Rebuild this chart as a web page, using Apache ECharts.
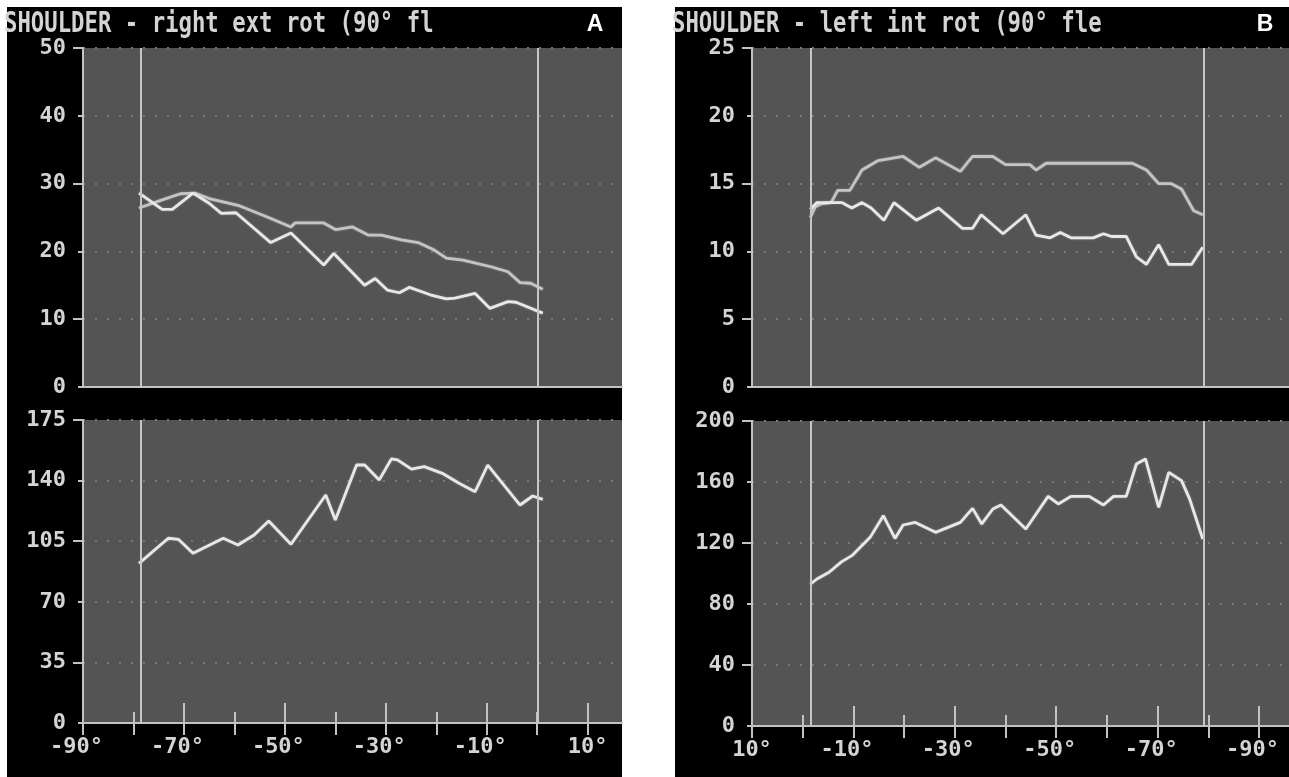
<!DOCTYPE html>
<html>
<head>
<meta charset="utf-8">
<title>Shoulder rotation – torque and work</title>
<script src="https://cdn.jsdelivr.net/npm/echarts@6/dist/echarts.min.js"></script>
<style>
  html, body { margin: 0; padding: 0; background: #ffffff; }
  #chart { width: 1289px; height: 777px; }
</style>
</head>
<body>
<div id="chart"></div>
<script>
// ---------- Panel A: right shoulder, external rotation ----------
const aTitle = 'SHOULDER - right ext rot (90° fl';
const aTag = 'A';
// upper trace (torque), two repetitions
const aTopAngleBright = [-78.9, -74.3, -72.3, -68.2, -65.0, -62.6, -59.7, -52.8, -48.8, -42.3, -40.3, -34.2, -32.1, -29.7, -27.3, -25.3, -21.2, -18.0, -16.3, -12.3, -9.4, -5.8, -4.2, 1.1];
const aTopValueBright = [28.6, 26.2, 26.2, 28.6, 27.1, 25.6, 25.7, 21.3, 22.7, 18.0, 19.7, 15.0, 16.0, 14.3, 13.9, 14.7, 13.6, 13.0, 13.1, 13.8, 11.6, 12.6, 12.5, 10.9];
const aTopAngleDim = [-78.9, -74.3, -70.7, -67.8, -65.0, -59.3, -53.6, -48.8, -48.0, -42.3, -39.9, -36.6, -33.4, -30.9, -26.9, -23.6, -20.4, -18.0, -14.7, -9.0, -5.8, -3.4, -1.3, 1.1];
const aTopValueDim = [26.4, 27.6, 28.5, 28.6, 27.8, 26.8, 25.1, 23.6, 24.2, 24.2, 23.2, 23.6, 22.4, 22.4, 21.7, 21.3, 20.2, 19.0, 18.7, 17.7, 17.0, 15.4, 15.3, 14.4];
// lower trace
const aBotAngle = [-78.9, -73.1, -71.1, -68.2, -62.2, -59.3, -56.1, -53.2, -48.8, -41.9, -40.0, -35.8, -34.2, -31.3, -28.9, -27.7, -24.9, -22.4, -18.8, -15.5, -12.3, -9.8, -3.4, -0.9, 1.1];
const aBotValue = [92.2, 106.7, 106.1, 98.0, 106.7, 102.8, 108.6, 116.7, 103.2, 131.7, 117.3, 149.0, 149.0, 140.4, 152.5, 152.0, 146.6, 148.1, 144.2, 138.5, 133.6, 149.0, 125.9, 131.1, 129.2];
const aMarkers = [-78.6, 0.2];
const aXRange = [-90, 16.8];
const aXLabels = [-90, -70, -50, -30, -10, 10];
const aXMinor = [-80, -60, -40, -20, 0];
const aTopY = { max: 50, step: 10, major: [50, 30, 10] };
const aBotY = { max: 175, step: 35, major: [175, 105, 35] };

// ---------- Panel B: left shoulder, internal rotation ----------
const bTitle = 'SHOULDER - left int rot (90° fle';
const bTag = 'B';
const bTopAngleBright = [-1.5, -2.8, -7.7, -9.7, -11.7, -13.5, -16.0, -18.0, -22.4, -26.8, -31.5, -33.5, -35.2, -39.5, -44.0, -46.0, -48.8, -50.8, -52.9, -57.3, -59.3, -60.9, -63.8, -65.8, -67.8, -70.2, -72.2, -76.7, -78.9];
const bTopValueBright = [13.1, 13.6, 13.6, 13.2, 13.6, 13.2, 12.3, 13.6, 12.3, 13.2, 11.7, 11.7, 12.7, 11.3, 12.7, 11.2, 11.0, 11.4, 11.0, 11.0, 11.3, 11.1, 11.1, 9.6, 9.05, 10.5, 9.05, 9.05, 10.3];
const bTopAngleDim = [-1.5, -2.5, -3.6, -5.6, -6.9, -9.3, -11.7, -14.9, -19.8, -23.0, -26.2, -31.1, -33.5, -37.5, -40.0, -44.8, -46.0, -48.0, -65.0, -67.8, -70.2, -72.6, -74.7, -77.1, -78.9];
const bTopValueDim = [12.5, 13.3, 13.5, 13.6, 14.5, 14.5, 16.0, 16.7, 17.0, 16.2, 16.9, 15.9, 17.0, 17.0, 16.4, 16.4, 16.0, 16.5, 16.5, 16.0, 15.0, 15.0, 14.6, 13.0, 12.7];
const bBotAngle = [-1.5, -2.8, -5.2, -7.7, -9.7, -13.3, -15.9, -18.2, -19.8, -22.2, -26.2, -31.1, -33.5, -35.3, -37.5, -39.1, -44.0, -48.4, -50.4, -52.9, -56.5, -59.3, -61.3, -63.8, -65.8, -67.6, -70.2, -72.2, -74.7, -76.3, -78.9];
const bBotValue = [93.1, 96.4, 100.8, 107.8, 111.7, 123.7, 137.9, 123.0, 131.8, 133.5, 127.0, 133.5, 142.7, 132.5, 142.3, 144.9, 129.2, 150.6, 145.6, 150.6, 150.6, 144.9, 150.6, 150.6, 171.8, 175.1, 143.4, 166.3, 160.9, 148.9, 122.6];
const bMarkers = [-1.6, -79.1];
const bXRange = [-95.9, 10];
const bXLabels = [10, -10, -30, -50, -70, -90];
const bXMinor = [0, -20, -40, -60, -80];
const bTopY = { max: 25, step: 5, major: [25, 15, 5] };
const bBotY = { max: 200, step: 40, major: [200, 120, 40] };

// ---------- styling ----------
const MONO = '"DejaVu Sans Mono", "Liberation Mono", monospace';
const TXT = '#d4d4d4';
const PLOT_BG = '#545454';
const AXIS = '#c2c2c2';
const BRIGHT = '#e8e8e8';
const DIM = '#c4c4c4';

const pairs = (xs, ys) => xs.map((x, i) => [x, ys[i]]);

function plotGrid(left, top, width, height) {
  return { left, top, width, height, show: true, backgroundColor: PLOT_BG, borderWidth: 0,
           containLabel: false, outerBoundsMode: 'none' };
}

function labelText(v) {
  return v < 0 ? '{n|' + v + '°}' : '{p|' + v + '°}';
}

const labelRich = {
  n: { fontFamily: MONO, fontWeight: 'bold', fontSize: 22, color: TXT, padding: [0, 13, 0, 0] },
  p: { fontFamily: MONO, fontWeight: 'bold', fontSize: 22, color: TXT }
};

// the upper panel only carries its baseline
function plainXAxis(gridIndex, range, inverse) {
  return {
    type: 'value', gridIndex, min: range[0], max: range[1], inverse, position: 'bottom',
    axisLine: { show: true, onZero: false, lineStyle: { color: AXIS, width: 2 } },
    axisTick: { show: false }, axisLabel: { show: false }, splitLine: { show: false }
  };
}

// lower panel: labelled long ticks, short ticks, and the part of each tick below the line
function degreeXAxes(gridIndex, range, inverse, labels, minor) {
  const base = { type: 'value', gridIndex, min: range[0], max: range[1], inverse, position: 'bottom',
                 splitLine: { show: false } };
  return [
    Object.assign({}, base, {
      axisLine: { show: true, onZero: false, lineStyle: { color: AXIS, width: 2 } },
      axisTick: { show: true, inside: true, length: 20, customValues: labels,
                  lineStyle: { color: AXIS, width: 2 } },
      axisLabel: { show: true, customValues: labels, margin: 13, formatter: labelText, rich: labelRich,
                   color: TXT, fontFamily: MONO, fontWeight: 'bold', fontSize: 22 }
    }),
    Object.assign({}, base, {
      axisLine: { show: false, onZero: false },
      axisTick: { show: true, inside: true, length: 11, customValues: minor,
                  lineStyle: { color: AXIS, width: 2 } },
      axisLabel: { show: false }
    }),
    Object.assign({}, base, {
      axisLine: { show: false, onZero: false },
      axisTick: { show: true, inside: false, length: 12, customValues: labels.concat(minor),
                  lineStyle: { color: AXIS, width: 2 } },
      axisLabel: { show: false }
    })
  ];
}

function valueYAxes(gridIndex, spec) {
  return [
    {
      type: 'value', gridIndex, min: 0, max: spec.max, interval: spec.step, position: 'left',
      axisLine: { show: true, onZero: false, lineStyle: { color: AXIS, width: 2 } },
      axisTick: { show: true, length: 5, lineStyle: { color: AXIS, width: 2 } },
      axisLabel: { color: TXT, fontFamily: MONO, fontWeight: 'bold', fontSize: 22, margin: 17 },
      splitLine: { show: true, lineStyle: { color: '#787878', width: 2, type: [2, 10] } }
    },
    {
      type: 'value', gridIndex, min: 0, max: spec.max, position: 'left',
      axisLine: { show: false, onZero: false },
      axisTick: { show: true, length: 10, customValues: spec.major, lineStyle: { color: AXIS, width: 2 } },
      axisLabel: { show: false }, splitLine: { show: false }
    }
  ];
}

function trace(xIdx, yIdx, data, color, markers) {
  const s = {
    type: 'line', xAxisIndex: xIdx, yAxisIndex: yIdx, data, showSymbol: false, symbol: 'none',
    lineStyle: { color, width: 2.8, shadowBlur: 2, shadowColor: 'rgba(255,255,255,0.35)' },
    z: 3, animation: false
  };
  if (markers) {
    s.markLine = {
      silent: true, symbol: 'none', label: { show: false }, animation: false,
      lineStyle: { color: '#c6c6c6', width: 2, type: 'solid' },
      data: markers.map(v => ({ xAxis: v }))
    };
  }
  return s;
}

const option = {
  backgroundColor: '#ffffff',
  animation: false,
  graphic: [
    { type: 'rect', z: -20, shape: { x: 7, y: 7, width: 615, height: 770 }, style: { fill: '#000000' } },
    { type: 'rect', z: -20, shape: { x: 675, y: 7, width: 614, height: 770 }, style: { fill: '#000000' } },
    { type: 'text', x: 4, y: 25, scaleY: 1.28,
      style: { text: aTitle, fill: TXT, font: 'bold 22.3px ' + MONO, verticalAlign: 'middle' } },
    { type: 'text', x: 672, y: 25, scaleY: 1.28,
      style: { text: bTitle, fill: TXT, font: 'bold 22.3px ' + MONO, verticalAlign: 'middle' } },
    { type: 'text', x: 595, y: 25,
      style: { text: aTag, fill: '#ffffff', font: 'bold 23px "Liberation Sans", Arial, sans-serif',
               align: 'center', verticalAlign: 'middle' } },
    { type: 'text', x: 1265, y: 25,
      style: { text: bTag, fill: '#ffffff', font: 'bold 23px "Liberation Sans", Arial, sans-serif',
               align: 'center', verticalAlign: 'middle' } }
  ],
  grid: [
    plotGrid(83, 48, 539, 339),
    plotGrid(83, 420, 539, 303),
    plotGrid(752, 48, 537, 339),
    plotGrid(752, 421, 537, 305)
  ],
  xAxis: [
    plainXAxis(0, aXRange, false),                          // 0
    ...degreeXAxes(1, aXRange, false, aXLabels, aXMinor),   // 1,2,3
    plainXAxis(2, bXRange, true),                           // 4
    ...degreeXAxes(3, bXRange, true, bXLabels, bXMinor)     // 5,6,7
  ],
  yAxis: [
    ...valueYAxes(0, aTopY),   // 0,1
    ...valueYAxes(1, aBotY),   // 2,3
    ...valueYAxes(2, bTopY),   // 4,5
    ...valueYAxes(3, bBotY)    // 6,7
  ],
  series: [
    trace(0, 0, pairs(aTopAngleDim, aTopValueDim), DIM, aMarkers),
    trace(0, 0, pairs(aTopAngleBright, aTopValueBright), BRIGHT),
    trace(1, 2, pairs(aBotAngle, aBotValue), BRIGHT, aMarkers),
    trace(4, 4, pairs(bTopAngleDim, bTopValueDim), DIM, bMarkers),
    trace(4, 4, pairs(bTopAngleBright, bTopValueBright), BRIGHT),
    trace(5, 6, pairs(bBotAngle, bBotValue), BRIGHT, bMarkers)
  ]
};

const chart = echarts.init(document.getElementById('chart'), null, { renderer: 'canvas' });
chart.setOption(option);
</script>
</body>
</html>
